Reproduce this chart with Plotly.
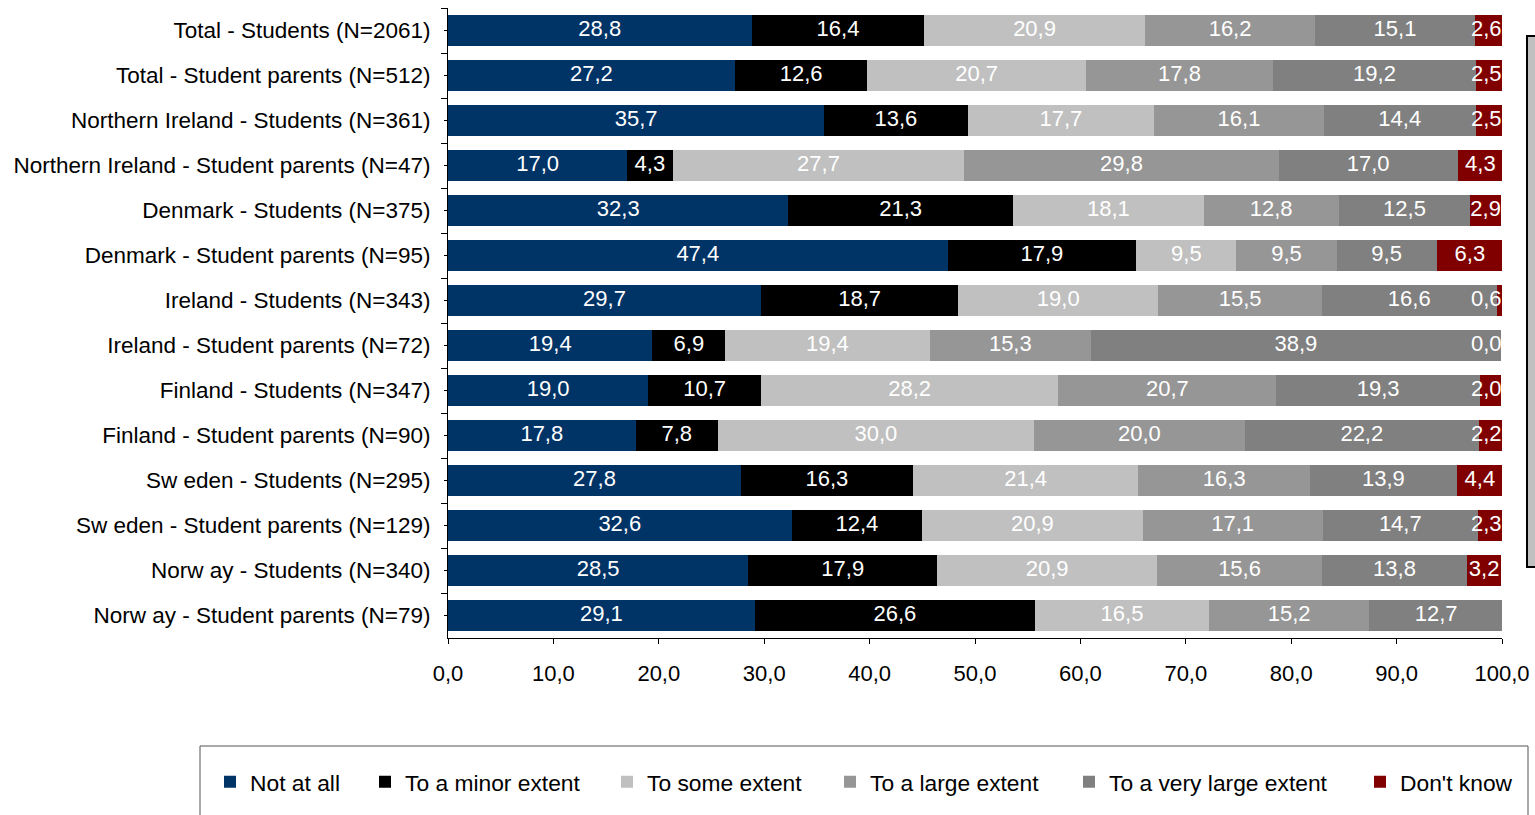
import plotly.graph_objects as go

categories = [
    "Total - Students (N=2061)",
    "Total - Student parents (N=512)",
    "Northern Ireland - Students (N=361)",
    "Northern Ireland - Student parents (N=47)",
    "Denmark - Students (N=375)",
    "Denmark - Student parents (N=95)",
    "Ireland - Students (N=343)",
    "Ireland - Student parents (N=72)",
    "Finland - Students (N=347)",
    "Finland - Student parents (N=90)",
    "Sw eden - Students (N=295)",
    "Sw eden - Student parents (N=129)",
    "Norw ay - Students (N=340)",
    "Norw ay - Student parents (N=79)",
]

series_names = ["Not at all", "To a minor extent", "To some extent",
                "To a large extent", "To a very large extent", "Don't know"]

not_at_all = [28.8, 27.2, 35.7, 17.0, 32.3, 47.4, 29.7, 19.4, 19.0, 17.8, 27.8, 32.6, 28.5, 29.1]
minor_extent = [16.4, 12.6, 13.6, 4.3, 21.3, 17.9, 18.7, 6.9, 10.7, 7.8, 16.3, 12.4, 17.9, 26.6]
some_extent = [20.9, 20.7, 17.7, 27.7, 18.1, 9.5, 19.0, 19.4, 28.2, 30.0, 21.4, 20.9, 20.9, 16.5]
large_extent = [16.2, 17.8, 16.1, 29.8, 12.8, 9.5, 15.5, 15.3, 20.7, 20.0, 16.3, 17.1, 15.6, 15.2]
very_large_extent = [15.1, 19.2, 14.4, 17.0, 12.5, 9.5, 16.6, 38.9, 19.3, 22.2, 13.9, 14.7, 13.8, 12.7]
dont_know = [2.6, 2.5, 2.5, 4.3, 2.9, 6.3, 0.6, 0.0, 2.0, 2.2, 4.4, 2.3, 3.2, None]

x_ticks = [0, 10, 20, 30, 40, 50, 60, 70, 80, 90, 100]

series_values = [not_at_all, minor_extent, some_extent, large_extent, very_large_extent, dont_know]
colors = ["#003366", "#000000", "#C0C0C0", "#969696", "#808080", "#800000"]

FONT = "Liberation Sans, Arial, sans-serif"

fig = go.Figure()

# bars
for i, (name, vals, col) in enumerate(zip(series_names, series_values, colors)):
    fig.add_trace(go.Bar(
        y=categories, x=[v if v is not None else 0 for v in vals],
        name=name, orientation="h", marker=dict(color=col, line=dict(width=0)),
        legend="legend" if i == 0 else f"legend{i+1}",
        hoverinfo="skip",
    ))

# data labels (centred in each segment, kept inside the plot)
cum = [0.0] * len(categories)
for vals in series_values:
    xs, ys, ts = [], [], []
    for j, v in enumerate(vals):
        if v is None:
            continue
        c = min(cum[j] + v / 2.0, 98.5)
        xs.append(c)
        ys.append(categories[j])
        ts.append(f"{v:.1f}".replace(".", ","))
        cum[j] += v
    fig.add_trace(go.Scatter(
        x=xs, y=ys, mode="text", text=ts, textposition="middle center",
        textfont=dict(color="white", size=22, family=FONT),
        cliponaxis=True, showlegend=False, hoverinfo="skip",
    ))

# invisible trace for minor (centre) ticks
fig.add_trace(go.Scatter(x=[None] * len(categories), y=categories, yaxis="y2",
                         mode="markers", showlegend=False, hoverinfo="skip"))

L, R, T, B = 448, 1502, 8, 638
W, H = 1535, 815
pw, ph = R - L, B - T


def px_x(p):
    return (p - L) / pw


def px_y(p):
    return (B - p) / ph


layout_legends = {}
sym_left = [228, 383, 625, 848, 1087, 1378]
for i, sl in enumerate(sym_left):
    key = "legend" if i == 0 else f"legend{i+1}"
    layout_legends[key] = dict(
        xref="container", yref="container",
        x=(sl - 18) / W, y=1 - 782 / H, xanchor="left", yanchor="middle",
        orientation="h", bgcolor="rgba(0,0,0,0)", borderwidth=0,
        font=dict(size=22.8, family=FONT, color="black"),
    )

fig.update_layout(
    width=W, height=H, autosize=False,
    margin=dict(l=L, r=W - R, t=T, b=H - B, pad=0, autoexpand=False),
    paper_bgcolor="white", plot_bgcolor="white",
    barmode="stack", bargap=0.31,
    separators=",.",
    font=dict(family=FONT, size=22, color="black"),
    xaxis=dict(range=[0, 100], tickvals=x_ticks, tickformat=".1f",
               showgrid=False, zeroline=False, showline=True, linecolor="black",
               linewidth=1, ticks="outside", ticklen=5, tickcolor="black",
               tickfont=dict(size=22, family=FONT, color="black"),
               ticklabelstandoff=11),
    yaxis=dict(type="category", categoryorder="array", categoryarray=categories,
               range=[13.5, -0.5], showgrid=False, zeroline=False, showline=True,
               linecolor="black", linewidth=1, ticks="outside", ticklen=6,
               tickcolor="black", tickson="boundaries",
               tickfont=dict(size=22.5, family=FONT, color="black"),
               ticklabelstandoff=12),
    yaxis2=dict(type="category", categoryorder="array", categoryarray=categories,
                range=[13.5, -0.5], overlaying="y", side="left", anchor="x",
                showgrid=False, zeroline=False, showline=False, ticks="outside",
                ticklen=3, tickcolor="black", showticklabels=False),
    shapes=[
        dict(type="rect", xref="paper", yref="paper",
             x0=px_x(200), x1=px_x(1528), y0=px_y(840), y1=px_y(746),
             line=dict(color="#555555", width=1), fillcolor="rgba(0,0,0,0)",
             layer="below"),
        dict(type="rect", xref="paper", yref="paper",
             x0=px_x(1527), x1=px_x(1560), y0=px_y(567), y1=px_y(36),
             line=dict(color="black", width=2), fillcolor="#C0C0C0"),
    ],
    **layout_legends,
)

fig.write_html("out.html", config={"displayModeBar": False},
               post_script="document.body.style.margin='0';")
